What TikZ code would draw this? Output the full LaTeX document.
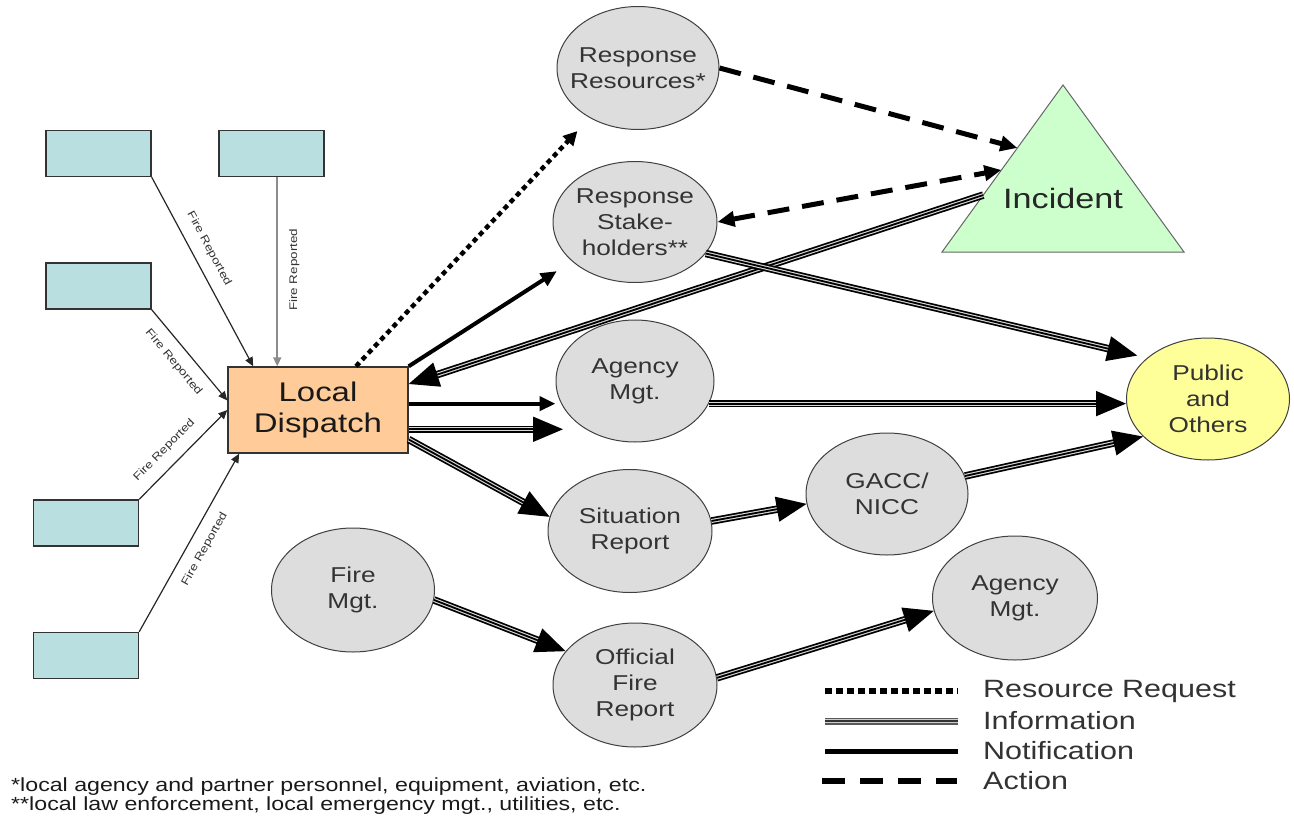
\documentclass[tikz,border=0pt]{standalone}
\usepackage{fontspec}
\setmainfont{Liberation Sans}[FakeStretch=1.22]
\usetikzlibrary{arrows.meta,shapes.geometric,calc}
\definecolor{srcblue}{HTML}{B9DFE1}
\definecolor{dispatchorange}{HTML}{FFCC99}
\definecolor{ellgray}{HTML}{DDDDDD}
\definecolor{incgreen}{HTML}{CCFFCC}
\definecolor{pubyellow}{HTML}{FFFF99}
\definecolor{txtgray}{HTML}{333333}
\begin{document}
\begin{tikzpicture}[x=1pt,y=-1pt,
  srcbox/.style={draw=black!80, line width=1.4pt, fill=srcblue,
    minimum width=105pt, minimum height=46pt, inner sep=0pt},
  dispatch/.style={draw=black!80, line width=1.4pt, fill=dispatchorange,
    minimum width=180pt, minimum height=86pt, inner sep=0pt, align=center,
    font=\fontsize{27}{31}\selectfont, text=black!90},
  ell/.style={ellipse, draw=black!75, line width=1pt, fill=ellgray, inner sep=0pt},
  etext/.style={align=center, font=\fontsize{21.5}{26}\selectfont, text=txtgray},
  fr/.style={line width=1.2pt, black!85, -{Triangle[length=9pt,width=8pt]}},
  frg/.style={line width=2pt, black!45, -{Triangle[length=9pt,width=8pt]}},
  flab/.style={font=\fontsize{11}{12}\selectfont, text=txtgray, inner sep=11pt},
  info/.style={line width=1.8pt, shorten >=#1,
    -{Triangle[length=30pt,width=25pt]},
    preaction={draw=black, line width=7.5pt, -, shorten >=#1+22pt},
    preaction={draw=white!85!black, line width=4pt, -, shorten >=#1+22pt}},
  info/.default=0pt,
  infoline/.style={line width=1.6pt, draw=black!80,
    preaction={draw=black!65, line width=7pt},
    preaction={draw=white!80!black, line width=4pt}},
  notif/.style={line width=4pt, shorten >=#1, -{Triangle[length=16pt,width=14pt]}},
  notif/.default=0pt,
  rreq/.style={line width=4.5pt, dash pattern=on 5pt off 4pt, shorten >=#1,
    -{Triangle[length=14pt,width=14pt]}},
  rreq/.default=0pt,
  action/.style={line width=5pt, dash pattern=on 22pt off 13pt,
    -{Triangle[length=17pt,width=15pt]}},
  action2/.style={line width=5pt, dash pattern=on 22pt off 13pt,
    {Triangle[length=17pt,width=15pt]}-{Triangle[length=17pt,width=15pt]}},
  legtext/.style={anchor=west, inner sep=0pt, font=\fontsize{25}{30}\selectfont, text=txtgray},
  foot/.style={anchor=west, inner sep=0pt, font=\fontsize{19}{20}\selectfont, text=black!90}
]
\useasboundingbox (0,0) rectangle (1294,819);

% reporting sources
\node[srcbox] (b1) at (98.5,153.5) {};
\node[srcbox] (b2) at (271.5,153.5) {};
\node[srcbox] (b3) at (98.5,286) {};
\node[srcbox] (b4) at (86,523) {};
\node[srcbox] (b5) at (86,655.5) {};

% dispatch centre
\node[dispatch] (ld) at (318,410) {\raisebox{-4pt}{Local}\\\raisebox{-4pt}{Dispatch}};

% parties
\node[ell, minimum width=162pt, minimum height=123pt,
  label={[etext]center:Response\\Resources*}] (rr) at (638,68) {};
\node[ell, minimum width=164pt, minimum height=121pt,
  label={[etext]center:Response\\Stake-\\holders**}] (sh) at (635,222) {};
\node[ell, minimum width=158pt, minimum height=122pt,
  label={[etext]center:Agency\\Mgt.}] (am) at (635,381) {};
\node[ell, minimum width=164pt, minimum height=123pt,
  label={[etext]center:Situation\\Report}] (sr) at (630,531) {};
\node[ell, minimum width=163pt, minimum height=124pt,
  label={[etext]center:Fire\\Mgt.}] (fm) at (353,590) {};
\node[ell, minimum width=164pt, minimum height=124pt,
  label={[etext]center:Official\\Fire\\Report}] (ofr) at (635,685) {};
\node[ell, minimum width=162pt, minimum height=122pt,
  label={[etext]center:GACC/\\NICC}] (gn) at (887,494) {};
\node[ell, minimum width=165pt, minimum height=124pt,
  label={[etext]center:Agency\\Mgt.}] (am2) at (1015,598) {};
\node[ell, fill=pubyellow, minimum width=163pt, minimum height=122pt,
  label={[etext]center:Public\\and\\Others}] (pub) at (1208,399) {};

% incident triangle
\coordinate (tl) at (942,252);
\coordinate (tp) at (1063,85);
\coordinate (tr) at (1184,252);
\filldraw[fill=incgreen, draw=black!60, line width=1pt] (tl) -- (tp) -- (tr) -- cycle;
\node[font=\fontsize{28}{30}\selectfont, text=black!85] (inc) at (1063,198) {Incident};
\coordinate (i1) at ($(tl)!0.341!(tp)$);
\coordinate (i2) at ($(tl)!0.623!(tp)$);
\coordinate (i3) at ($(tl)!0.491!(tp)$);

% fire reports
\draw[fr] (b1.south east) -- node[flab, sloped, above, pos=.42] {Fire Reported} (ld.146.5);
\draw[frg] (ld.133.6 |- b2.south) -- node[flab, rotate=90, anchor=north, pos=.49] {Fire Reported} (ld.133.6);
\draw[fr] (b3.south east) -- node[flab, sloped, below, pos=.46] {Fire Reported} (ld.174.9);
\draw[fr] (b4.north east) -- node[flab, sloped, above, pos=.42] {Fire Reported} (ld.west);
\draw[fr] (b5.north east) -- node[flab, sloped, below, pos=.51] {Fire Reported} (ld.209.2);

% flows out of dispatch
\coordinate (ahead) at (563,0);
\draw[rreq=18pt] (ld.49.3) -- (rr.226.8);
\draw[notif=18pt] (ld.north east) -- (sh.212);
\draw[notif] (ld.4.4) -- (ld.4.4 -| am.west);
\draw[info] (ld.-12.5) -- (ld.-12.5 -| ahead);
\draw[info] (ld.-18.4) -- (sr.170);

% incident links
\draw[action] (rr.east) -- (i2);
\draw[action2] (sh.east) -- (i3);
\draw[info] (i1) -- (ld.16.4);

% information to the public and agencies
\draw[info=10pt] (sh.-24.2) -- (pub.146.7);
\draw[info] (am.-17) -- (am.-17 -| pub.west);
\draw[info] (sr.7.6) -- (gn.187.6);
\draw[info] (gn.13.7) -- (pub.210.3);
\draw[info] (fm.-7.1) -- (ofr.154.8);
\draw[info] (ofr.5.6) -- (am2.189.9);

% legend
\node[legtext] (lg1) at (983,691) {Resource Request};
\node[legtext] (lg2) at (983,721) {Information};
\node[legtext] (lg3) at (983,751) {Notification};
\node[legtext] (lg4) at (983,781) {Action};
\draw[line width=6pt, dash pattern=on 7pt off 4pt] ([xshift=-158pt]lg1.west) -- ([xshift=-25pt]lg1.west);
\draw[infoline] ([xshift=-158pt]lg2.west) -- ([xshift=-25pt]lg2.west);
\draw[line width=5pt] ([xshift=-158pt]lg3.west) -- ([xshift=-25pt]lg3.west);
\draw[line width=6pt, dash pattern=on 23pt off 15pt] ([xshift=-161pt]lg4.west) -- ([xshift=-26pt]lg4.west);

% footnotes
\node[foot] (fn1) at (11,787) {*local agency and partner personnel, equipment, aviation, etc.};
\node[foot] (fn2) at (11,806) {**local law enforcement, local emergency mgt., utilities, etc.};
\end{tikzpicture}
\end{document}
